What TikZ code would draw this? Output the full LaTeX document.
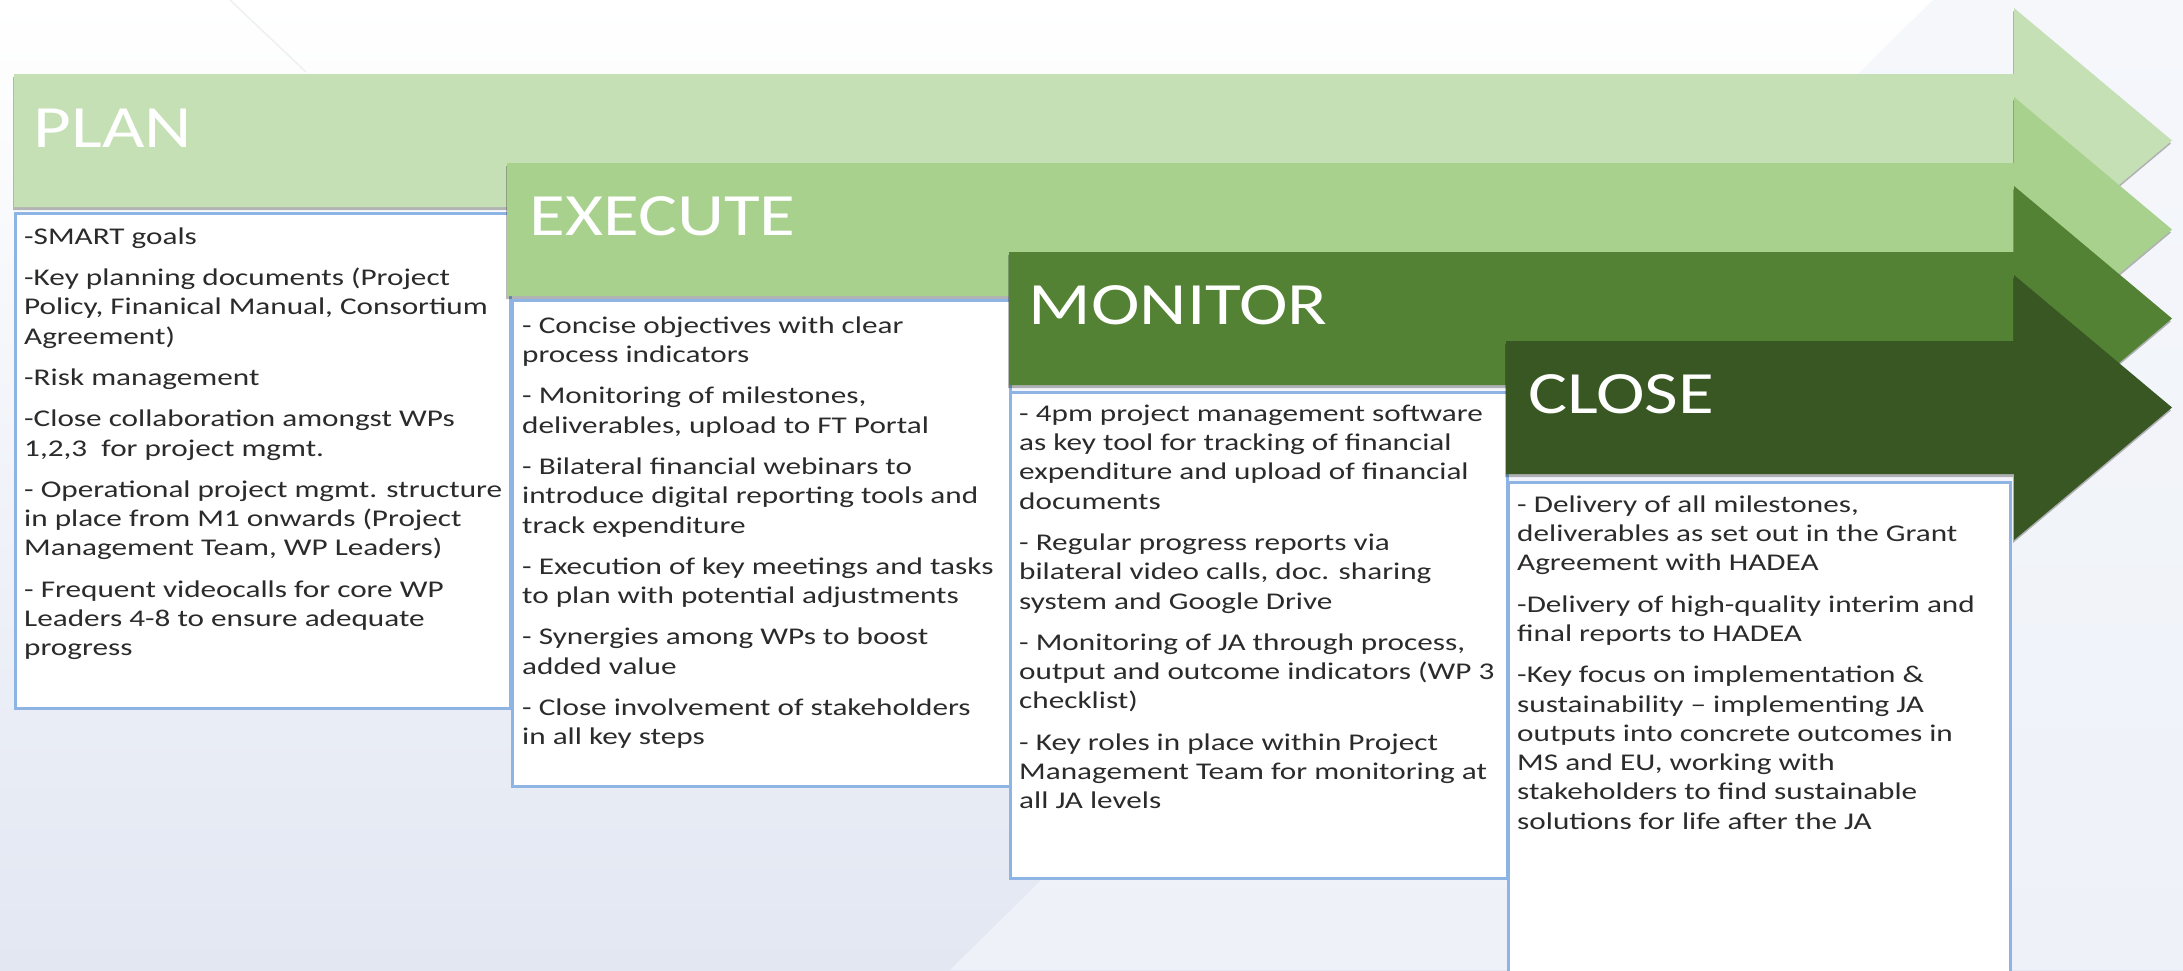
\documentclass[tikz,border=0pt]{standalone}
\usepackage{fontspec}
\setmainfont{Carlito}
\newfontfamily\bodyfont[FakeStretch=1.3]{Carlito}
\newfontfamily\titlefont[FakeStretch=1.22]{Carlito}
\usetikzlibrary{shadows}
\definecolor{planc}{HTML}{C5E0B4}
\definecolor{execc}{HTML}{A9D18E}
\definecolor{monc}{HTML}{548235}
\definecolor{closec}{HTML}{385723}
\definecolor{boxline}{HTML}{8DB4E2}
\definecolor{txtc}{HTML}{2B2B2B}
\definecolor{bgdark}{HTML}{E2E7F2}
\definecolor{bglight}{HTML}{F5F7FB}
\definecolor{bglight2}{HTML}{EEF1F8}
\newcommand{\greenarrow}[3]{%
  \fill[#1, arrowshadow] (#2,#3) -- (2014,#3) -- (2014,#3-66) -- (2172,#3+66.5)
    -- (2014,#3+199) -- (2014,#3+133) -- (#2,#3+133) -- cycle;}
\begin{document}
\begin{tikzpicture}[x=1pt,y=-1pt,
  arrowshadow/.style={drop shadow={shadow xshift=-1pt,shadow yshift=-3pt,opacity=0.28,fill=black}},
  bodybox/.style={draw=boxline, line width=2.5pt, fill=white, anchor=north west,
    inner sep=0pt, minimum width=#1},
  titletext/.style={anchor=base west, inner sep=0pt, text=white,
    font=\titlefont\fontsize{60}{72}\selectfont},
  bodytext/.style={anchor=north west, inner sep=0pt, align=left, text=txtc,
    font=\bodyfont\fontsize{24}{29.3}\selectfont}
]
\useasboundingbox (0,0) rectangle (2183,970);
% background
\shade[top color=white, bottom color=bgdark] (0,0) rectangle (2183,970);
\shade[top color=bglight, bottom color=bglight2] (1933,0) -- (2183,0) -- (2183,970) -- (950,970) -- cycle;
\draw[color=black!6, line width=1.5pt] (230,0) -- (306,72);

% PLAN
\greenarrow{planc}{14}{74}
\node[bodybox, minimum height=495pt, minimum width=495pt] (planbox) at (14,212) {};
\node[titletext] (plantitle) at (33.5,147) {PLAN};
\node[bodytext] (plantext) at (24,224) {\rule{0pt}{20pt}-SMART goals\\[12pt]
-Key planning documents (Project\\
Policy, Finanical Manual, Consortium\\
Agreement)\\[12pt]
-Risk management\\[12pt]
-Close collaboration amongst WPs\\
1,2,3\ \ for project mgmt.\\[12pt]
- Operational project mgmt. structure\\
in place from M1 onwards (Project\\
Management Team, WP Leaders)\\[12pt]
- Frequent videocalls for core WP\\
Leaders 4-8 to ensure adequate\\
progress};

% EXECUTE
\greenarrow{execc}{507}{163}
\node[bodybox, minimum height=486pt, minimum width=498pt] (execbox) at (511,299) {};
\node[titletext] (exectitle) at (529.5,235) {EXECUTE};
\node[bodytext] (exectext) at (522,313) {\rule{0pt}{20pt}- Concise objectives with clear\\
process indicators\\[12pt]
- Monitoring of milestones,\\
deliverables, upload to FT Portal\\[12pt]
- Bilateral financial webinars to\\
introduce digital reporting tools and\\
track expenditure\\[12pt]
- Execution of key meetings and tasks\\
to plan with potential adjustments\\[12pt]
- Synergies among WPs to boost\\
added value\\[12pt]
- Close involvement of stakeholders\\
in all key steps};

% MONITOR
\greenarrow{monc}{1009}{252}
\node[bodybox, minimum height=486pt, minimum width=497pt] (monbox) at (1009,391) {};
\node[titletext] (montitle) at (1028.5,324) {MONITOR};
\node[bodytext] (montext) at (1019,401) {\rule{0pt}{20pt}- 4pm project management software\\
as key tool for tracking of financial\\
expenditure and upload of financial\\
documents\\[12pt]
- Regular progress reports via\\
bilateral video calls, doc. sharing\\
system and Google Drive\\[12pt]
- Monitoring of JA through process,\\
output and outcome indicators (WP 3\\
checklist)\\[12pt]
- Key roles in place within Project\\
Management Team for monitoring at\\
all JA levels};

% CLOSE
\greenarrow{closec}{1506}{341}
\node[bodybox, minimum height=500pt, minimum width=502pt] (closebox) at (1507,481) {};
\node[titletext] (closetitle) at (1528,413) {CLOSE};
\node[bodytext] (closetext) at (1517,492) {\rule{0pt}{20pt}- Delivery of all milestones,\\
deliverables as set out in the Grant\\
Agreement with HADEA\\[12pt]
-Delivery of high-quality interim and\\
final reports to HADEA\\[12pt]
-Key focus on implementation \&\\
sustainability – implementing JA\\
outputs into concrete outcomes in\\
MS and EU, working with\\
stakeholders to find sustainable\\
solutions for life after the JA};
\end{tikzpicture}
\end{document}
